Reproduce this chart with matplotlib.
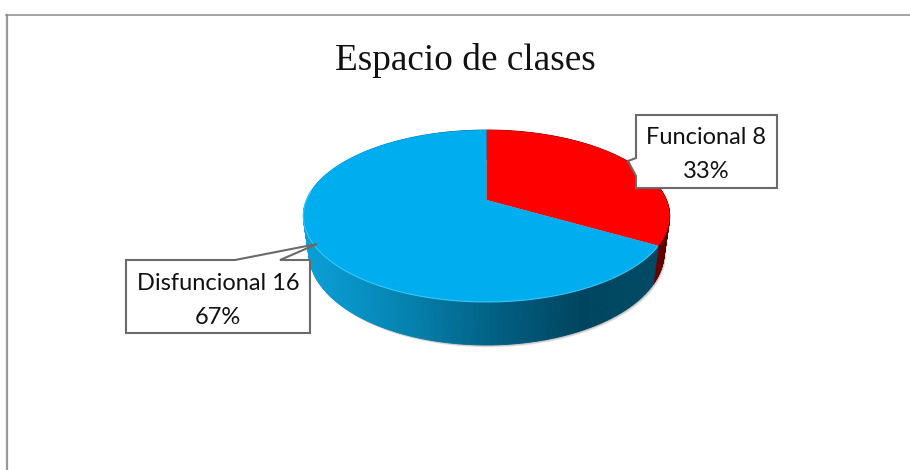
import numpy as np
import matplotlib
matplotlib.use('Agg')
import matplotlib.pyplot as plt
from matplotlib.colors import LinearSegmentedColormap

title = 'Espacio de clases'
names = ['Funcional', 'Disfuncional']
values = [8, 16]
percents = ['33%', '67%']
top_colors = ['#ff0000', '#00aeef']

# pie geometry in pixels (axes use image coordinates)
cx, cy = 486.5, 200
a, b, c = 180, 83, 0.186
depth = 35


def top_xy(theta):
    u, v = np.sin(theta), np.cos(theta)
    w = 1 + c * v
    return cx + a * u / w, cy - b * v / w


def low_xy(theta):
    u, v = np.sin(theta), np.cos(theta)
    w = 1 + c * v
    return cx + 0.97 * a * u / w, cy - b * v / w + depth / w


fig = plt.figure(figsize=(9.1, 4.7), dpi=100)
ax = fig.add_axes([0, 0, 1, 1])
ax.set_xlim(0, 910)
ax.set_ylim(470, 0)
ax.axis('off')

# chart frame, no right or bottom side visible
ax.plot([6.5, 6.5], [14.5, 470], color='#9a9a9a', lw=1.6)
ax.plot([6, 910], [14.5, 14.5], color='#8a8a8a', lw=1.1)

fractions = np.array(values) / sum(values)
edges = np.concatenate([[0], np.cumsum(fractions)]) * 2 * np.pi

# soft shadow under the pie
t = np.linspace(0, 2 * np.pi, 300)
for off in [4, 3, 2, 1]:
    x, y = low_xy(t)
    ax.fill(x + off * 0.5, y + off * 0.6, color='#000000', alpha=0.08, lw=0)

blue_side = LinearSegmentedColormap.from_list('side', [
    (0.0, '#0a9fd8'), (0.1, '#0896cb'), (0.3, '#0580ac'), (0.55, '#015d80'),
    (0.77, '#00455f'), (1.0, '#004a66')])
red_side = LinearSegmentedColormap.from_list('rside', ['#8a0000', '#5c0000'])

# side wall, as thin strips so the gradient follows x
for i in range(len(values)):
    ths = np.linspace(edges[i], edges[i + 1], 240)
    for t0, t1 in zip(ths[:-1], ths[1:]):
        tm = np.array([t0, t1])
        xt, yt = top_xy(tm)
        xl, yl = low_xy(tm)
        if i == 0:
            col = red_side(np.clip((xt[0] - 640) / 30, 0, 1))
        else:
            col = blue_side(np.clip((xt[0] - 303) / 366, 0, 1))
        ax.fill([xt[0], xt[1], xl[1], xl[0]], [yt[0], yt[1], yl[1], yl[0]],
                color=col, lw=0.6)

# top faces
for i in range(len(values)):
    ths = np.linspace(edges[i], edges[i + 1], 240)
    x, y = top_xy(ths)
    ax.fill(np.r_[cx, x], np.r_[cy, y], color=top_colors[i], lw=0)

# light rim along the front of the blue slice
ths = np.linspace(edges[1] + 0.02, 1.5 * np.pi + 0.1, 200)
x, y = top_xy(ths)
ax.plot(x, y, color='#38c6f4', lw=0.8)

ax.text(465, 60, title, family='Liberation Serif', fontsize=26.8, color='#111111',
        ha='center', va='center')


def callout(verts, cxt, y1, y2, name, val, pct):
    xs, ys = zip(*verts)
    ax.fill(xs, ys, facecolor='white', edgecolor='#6a6a6a', lw=1.5, joinstyle='miter', zorder=5)
    ax.text(cxt, y1, name + ' ' + str(val), family='Lato', fontsize=17, color='#111111',
            ha='center', va='center', zorder=6)
    ax.text(cxt, y2, pct, family='Lato', fontsize=17, color='#111111',
            ha='center', va='center', zorder=6)


callout([(636, 115), (777, 115), (777, 188), (636, 188), (636, 176), (628, 161), (636, 158)],
        706.5, 138, 172, names[0], values[0], percents[0])
callout([(126, 260), (235, 260), (317, 244), (280, 260), (310, 260), (310, 333), (126, 333)],
        218, 284, 317, names[1], values[1], percents[1])

fig.savefig('out.png', dpi=100)
